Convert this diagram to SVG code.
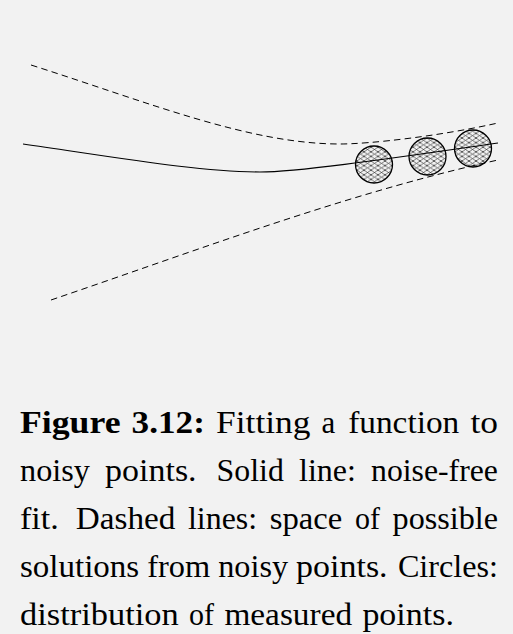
<svg xmlns="http://www.w3.org/2000/svg" width="513" height="634" viewBox="0 0 513 634">
<style>
.curve{fill:none;stroke:#000;stroke-width:1.2}
.dash{fill:none;stroke:#000;stroke-width:1;stroke-dasharray:6.5 4.2}
.pt{fill:url(#hatch);stroke:#000;stroke-width:1.3}
.cap{font-family:"Liberation Serif","DejaVu Serif",serif;font-size:31px;fill:#000}
.cap tspan{lengthAdjust:spacingAndGlyphs}
.b{font-weight:bold}
</style>
<defs>
<pattern id="hatch" patternUnits="userSpaceOnUse" width="7" height="4.6">
<rect width="7" height="4.6" fill="#f2f2f2"/>
<path d="M0,0 L7,4.6 M0,4.6 L7,0 M-1,-0.66 L1,0.66 M6,3.94 L8,5.26 M-1,5.26 L1,3.94 M6,0.66 L8,-0.66" stroke="#444" stroke-width="0.7"/>
</pattern>
</defs>
<rect width="513" height="634" fill="#f2f2f2"/>
<g id="p1"><circle class="pt" cx="374" cy="164.5" r="18.5"/></g>
<g id="p2"><circle class="pt" cx="427.5" cy="156.5" r="18.5"/></g>
<g id="p3"><circle class="pt" cx="473" cy="148.5" r="18.5"/></g>
<g id="connectors">
<path class="dash" d="M31,65 C150,103 250,144 340,144 C370,144 440,136 498,123"/>
<path class="curve" d="M23,144 C120,158 200,172 260,172 C300,172 400,157 498,143"/>
<path class="dash" d="M51,300 C201,249 348,193 498,160"/>
</g>
<g id="caption" class="cap">
<text y="433"><tspan class="b" x="20" textLength="100.5" lengthAdjust="spacingAndGlyphs">Figure</tspan><tspan class="b" x="131.6" textLength="73.3" lengthAdjust="spacingAndGlyphs">3.12:</tspan><tspan x="216.1" textLength="94.3" lengthAdjust="spacingAndGlyphs">Fitting</tspan><tspan x="321.5">a</tspan><tspan x="348.2" textLength="111.1" lengthAdjust="spacingAndGlyphs">function</tspan><tspan x="470.4" textLength="27.6" lengthAdjust="spacingAndGlyphs">to</tspan></text>
<text y="481"><tspan x="20" textLength="69.9" lengthAdjust="spacingAndGlyphs">noisy</tspan><tspan x="105.1" textLength="91.5" lengthAdjust="spacingAndGlyphs">points.</tspan><tspan x="216.6" textLength="67.2" lengthAdjust="spacingAndGlyphs">Solid</tspan><tspan x="299" textLength="56.9" lengthAdjust="spacingAndGlyphs">line:</tspan><tspan x="371.1" textLength="126.8" lengthAdjust="spacingAndGlyphs">noise-free</tspan></text>
<text y="529"><tspan x="20" textLength="38.8" lengthAdjust="spacingAndGlyphs">fit.</tspan><tspan x="75.8" textLength="99.6" lengthAdjust="spacingAndGlyphs">Dashed</tspan><tspan x="188" textLength="69.1" lengthAdjust="spacingAndGlyphs">lines:</tspan><tspan x="269.8" textLength="72.5" lengthAdjust="spacingAndGlyphs">space</tspan><tspan x="354.9" textLength="25" lengthAdjust="spacingAndGlyphs">of</tspan><tspan x="392.6" textLength="105.4" lengthAdjust="spacingAndGlyphs">possible</tspan></text>
<text y="577"><tspan x="20" textLength="119.2" lengthAdjust="spacingAndGlyphs">solutions</tspan><tspan x="147.2" textLength="63" lengthAdjust="spacingAndGlyphs">from</tspan><tspan x="218.2" textLength="69.9" lengthAdjust="spacingAndGlyphs">noisy</tspan><tspan x="296.1" textLength="91.5" lengthAdjust="spacingAndGlyphs">points.</tspan><tspan x="397.9" textLength="100.1" lengthAdjust="spacingAndGlyphs">Circles:</tspan></text>
<text y="625"><tspan x="20" textLength="158.8" lengthAdjust="spacingAndGlyphs">distribution</tspan><tspan x="189.1" textLength="25" lengthAdjust="spacingAndGlyphs">of</tspan><tspan x="224.4" textLength="127.7" lengthAdjust="spacingAndGlyphs">measured</tspan><tspan x="362.4" textLength="91.5" lengthAdjust="spacingAndGlyphs">points.</tspan></text>
</g>
</svg>
